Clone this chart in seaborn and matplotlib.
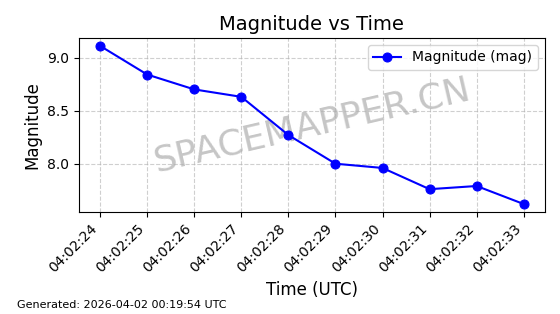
import matplotlib
matplotlib.use("Agg")
import matplotlib.pyplot as plt
import pandas as pd
import seaborn as sns

# observation times and magnitudes
times = ["04:02:24", "04:02:25", "04:02:26", "04:02:27", "04:02:28",
         "04:02:29", "04:02:30", "04:02:31", "04:02:32", "04:02:33"]
magnitude = [9.11, 8.84, 8.70, 8.63, 8.27, 8.00, 7.96, 7.76, 7.79, 7.62]

df = pd.DataFrame({"time": times, "mag": magnitude})

fig, ax = plt.subplots(figsize=(5.6, 3.14), dpi=100)
fig.subplots_adjust(left=0.141, right=0.973, top=0.879, bottom=0.325)

# watermark behind the data
ax.text(0.5, 0.5, "SPACEMAPPER.CN", transform=ax.transAxes, fontsize=26,
        color="gray", alpha=0.45, rotation=13, ha="center", va="center", zorder=0)

sns.lineplot(data=df, x="time", y="mag", marker="o", color="blue",
             markeredgecolor="blue", markersize=6.5, linewidth=1.5,
             label="Magnitude (mag)", ax=ax, zorder=3)

ax.grid(True, linestyle="--", alpha=0.6)
ax.set_title("Magnitude vs Time", fontsize=14)
ax.set_xlabel("Time (UTC)", fontsize=12)
ax.set_ylabel("Magnitude", fontsize=12)
plt.setp(ax.get_xticklabels(), rotation=45, ha="right")
ax.legend(loc="upper right")

fig.text(0.03, 0.02, "Generated: 2026-04-02 00:19:54 UTC", fontsize=8)

fig.savefig("out.png", dpi=100)
